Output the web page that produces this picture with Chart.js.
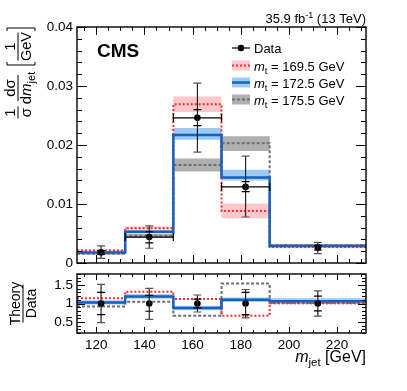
<!DOCTYPE html>
<html>
<head>
<meta charset="utf-8">
<script src="https://cdn.jsdelivr.net/npm/chart.js@4.4.1/dist/chart.umd.min.js"></script>
<style>
  body { margin: 0; background: #fff; }
  #wrap { position: relative; width: 407px; height: 391px; }
  canvas { position: absolute; left: 0; }
  #main { top: 0; }
  #ratio { top: 270px; }
</style>
</head>
<body>
<div id="wrap">
  <canvas id="main" width="407" height="270"></canvas>
  <canvas id="ratio" width="407" height="121"></canvas>
</div>
<script>
// binning in m_jet [GeV]
const binEdges = [112, 132, 152, 172, 192, 232];
const binCenters = [122, 142, 162, 182, 212];

// unfolded data, 1/sigma dsigma/dm_jet [1/GeV]
const dataVals   = [0.0018, 0.0044, 0.0246, 0.0129, 0.0026];
const dataTotHi  = [0.0029, 0.0063, 0.0305, 0.0181, 0.0035];
const dataTotLo  = [0.0008, 0.0025, 0.0188, 0.0078, 0.0016];
const dataStatHi = [0.0021, 0.0053, 0.0260, 0.0138, 0.0030];
const dataStatLo = [0.0015, 0.0034, 0.0233, 0.0121, 0.0022];

// predictions for three top masses
const mt1695 = [0.0021, 0.0059, 0.0269, 0.0088, 0.0027];
const mt1695Hi = [0.0023, 0.0062, 0.0282, 0.0101, 0.0028];
const mt1695Lo = [0.0019, 0.0057, 0.0256, 0.0076, 0.0025];
const mt1725 = [0.0018, 0.0053, 0.0217, 0.0145, 0.0029];
const mt1725Hi = [0.0020, 0.0056, 0.0229, 0.0158, 0.0032];
const mt1725Lo = [0.0016, 0.0050, 0.0209, 0.0140, 0.0027];
const mt1755 = [0.0016, 0.0046, 0.0166, 0.0203, 0.0030];
const mt1755Hi = [0.0018, 0.0049, 0.0177, 0.0215, 0.0032];
const mt1755Lo = [0.0014, 0.0043, 0.0155, 0.0190, 0.0028];

// ratio panel: theory / data
const ratioData = [1, 1, 1, 1, 1];
const ratioTotHi = [1.52, 1.41, 1.23, 1.38, 1.34];
const ratioTotLo = [0.48, 0.57, 0.77, 0.61, 0.66];
const ratioStatHi = [1.30, 1.22, 1.12, 1.30, 1.20];
const ratioStatLo = [0.70, 0.79, 0.88, 0.70, 0.80];
const ratio1695 = [1.14, 1.32, 1.12, 0.67, 1.01];
const ratio1725 = [1.03, 1.19, 0.88, 1.10, 1.06];
const ratio1725Hi = [1.09, 1.25, 0.94, 1.16, 1.14];
const ratio1725Lo = [0.97, 1.13, 0.82, 1.04, 0.98];
const ratio1755 = [0.92, 1.05, 0.67, 1.54, 1.02];

// axes
const xTicks = [120, 140, 160, 180, 200, 220];
const xTickLabels = ['120', '140', '160', '180', '200', '220'];
const mainYTicks = [0, 0.01, 0.02, 0.03, 0.04];
const mainYTickLabels = ['0', '0.01', '0.02', '0.03', '0.04'];
const ratioYTicks = [0.5, 1, 1.5];
const ratioYTickLabels = ['0.5', '1', '1.5'];

const legendLabels = ['Data', '169.5 GeV', '172.5 GeV', '175.5 GeV'];

const FONT = '"Liberation Sans", Arial, Helvetica, sans-serif';
const RED = '#ff2a2a', PINK = 'rgba(255,170,178,0.65)';
const BLUE = '#1462bd', LBLUE = '#9ccbf7';
const GREY = '#6e6e6e', LGREY = '#b0b0b0';

function font(size, style) {
  return (style || '') + ' ' + size + 'px ' + FONT;
}

// step-shaped line data from the bin contents
function steps(vals) {
  return binEdges.map((x, i) => ({ x: x, y: vals[Math.min(i, vals.length - 1)] }));
}

function bandPair(hi, lo, color, order) {
  return [
    { data: steps(hi), stepped: 'before', borderWidth: 0, borderColor: 'transparent',
      pointRadius: 0, backgroundColor: color, fill: '+1', order: order },
    { data: steps(lo), stepped: 'before', borderWidth: 0, borderColor: 'transparent',
      pointRadius: 0, fill: false, order: order }
  ];
}

function histLine(vals, color, width, dash, order) {
  return { data: steps(vals), stepped: 'before', borderColor: color, borderWidth: width,
    borderDash: dash, pointRadius: 0, fill: false, order: order, borderCapStyle: 'butt' };
}

function pointsSet(vals) {
  return { data: binCenters.map((x, i) => ({ x: x, y: vals[i] })), showLine: false,
    pointRadius: 3.3, pointBackgroundColor: '#000', pointBorderWidth: 0, order: -1 };
}

// draw a run of text pieces, left to right
function textRun(ctx, x, y, parts, align) {
  let w = 0;
  parts.forEach(p => { ctx.font = p.f; w += ctx.measureText(p.t).width; });
  let cx = align === 'right' ? x - w : (align === 'center' ? x - w / 2 : x);
  ctx.textAlign = 'left';
  parts.forEach(p => {
    ctx.font = p.f;
    ctx.fillText(p.t, cx, y + (p.dy || 0));
    cx += ctx.measureText(p.t).width;
  });
  return w;
}

function frameAndTicks(chart, t) {
  const { ctx, chartArea: a } = chart;
  const sx = chart.scales.x, sy = chart.scales.y;
  ctx.save();
  ctx.strokeStyle = '#000';
  ctx.lineWidth = 1;
  ctx.beginPath();
  for (let k = 0; k <= t.xn; k++) {
    const v = t.x0 + k * t.xstep;
    const px = Math.round(sx.getPixelForValue(v)) + 0.5;
    const len = (v % 20 === 0) ? t.xBig : t.xSmall;
    ctx.moveTo(px, a.bottom); ctx.lineTo(px, a.bottom - len);
    ctx.moveTo(px, a.top); ctx.lineTo(px, a.top + len);
  }
  for (let k = 0; k <= t.yn; k++) {
    const v = t.y0 + k * t.ystep;
    const py = Math.round(sy.getPixelForValue(v)) + 0.5;
    const len = (k % t.yEvery === t.yOff) ? t.yBig : t.ySmall;
    ctx.moveTo(a.left, py); ctx.lineTo(a.left + len, py);
    ctx.moveTo(a.right, py); ctx.lineTo(a.right - len, py);
  }
  ctx.stroke();
  ctx.lineWidth = 1.4;
  ctx.strokeRect(a.left, a.top, a.right - a.left, a.bottom - a.top);
  ctx.restore();
}

function errorBars(chart, vals, totHi, totLo, statHi, statLo, xBars) {
  const { ctx } = chart;
  const sx = chart.scales.x, sy = chart.scales.y;
  ctx.save();
  ctx.lineWidth = 1.2;
  binCenters.forEach((c, i) => {
    const px = sx.getPixelForValue(c);
    ctx.strokeStyle = '#222';
    ctx.beginPath();
    ctx.moveTo(px, sy.getPixelForValue(totLo[i]));
    ctx.lineTo(px, sy.getPixelForValue(totHi[i]));
    ctx.stroke();
    ctx.strokeStyle = '#555';
    ctx.beginPath();
    [totHi[i], totLo[i]].forEach(v => {
      const py = sy.getPixelForValue(v);
      ctx.moveTo(px - 4, py); ctx.lineTo(px + 4, py);
    });
    ctx.stroke();
    ctx.strokeStyle = '#000';
    ctx.beginPath();
    [statHi[i], statLo[i]].forEach(v => {
      const py = sy.getPixelForValue(v);
      ctx.moveTo(px - 4, py); ctx.lineTo(px + 4, py);
    });
    // horizontal bin-width bars, visible in the middle bins only
    if (xBars && i > 0 && i < 4) {
      const py = sy.getPixelForValue(vals[i]);
      const l = sx.getPixelForValue(binEdges[i]), r = sx.getPixelForValue(binEdges[i + 1]);
      ctx.moveTo(l, py); ctx.lineTo(r, py);
      ctx.moveTo(l, py - 4); ctx.lineTo(l, py + 4);
      ctx.moveTo(r, py - 4); ctx.lineTo(r, py + 4);
    }
    ctx.stroke();
  });
  ctx.restore();
}

function frac(ctx, cx, half, num, den, denBase) {
  ctx.beginPath();
  ctx.moveTo(cx - half, 0); ctx.lineTo(cx + half, 0);
  ctx.stroke();
  textRun(ctx, cx, -3, num, 'center');
  textRun(ctx, cx, denBase, den, 'center');
}

function bracket(ctx, x, top, bottom, dir) {
  ctx.beginPath();
  ctx.moveTo(x + dir * 3, top); ctx.lineTo(x, top);
  ctx.lineTo(x, bottom); ctx.lineTo(x + dir * 3, bottom);
  ctx.stroke();
}

function legendRow(ctx, y, kind) {
  const x0 = 232, x1 = 250;
  ctx.save();
  if (kind === 0) {
    ctx.strokeStyle = '#000'; ctx.lineWidth = 1.2;
    ctx.beginPath(); ctx.moveTo(x0, y); ctx.lineTo(x1, y); ctx.stroke();
    ctx.fillStyle = '#000';
    ctx.beginPath(); ctx.arc((x0 + x1) / 2, y, 3.3, 0, Math.PI * 2); ctx.fill();
  } else {
    const fill = [null, PINK, LBLUE, LGREY][kind];
    const col = [null, RED, BLUE, GREY][kind];
    ctx.fillStyle = fill;
    ctx.fillRect(x0, y - 5, x1 - x0, 10);
    ctx.strokeStyle = col;
    ctx.lineWidth = kind === 2 ? 2.5 : 2;
    ctx.setLineDash(kind === 1 ? [2, 2] : (kind === 3 ? [3, 2] : []));
    ctx.beginPath(); ctx.moveTo(x0, y); ctx.lineTo(x1, y); ctx.stroke();
  }
  ctx.restore();
  ctx.fillStyle = '#000';
  if (kind === 0) {
    textRun(ctx, 254, y + 5, [{ t: legendLabels[0], f: font(13) }]);
  } else {
    textRun(ctx, 254, y + 5, [
      { t: 'm', f: font(13, 'italic') },
      { t: 't', f: font(9.5), dy: 3 },
      { t: ' = ' + legendLabels[kind], f: font(13) }
    ]);
  }
}

const mainDeco = {
  id: 'mainDeco',
  afterDatasetsDraw(chart) {
    errorBars(chart, dataVals, dataTotHi, dataTotLo, dataStatHi, dataStatLo, true);
  },
  afterDraw(chart) {
    const ctx = chart.ctx;
    frameAndTicks(chart, { x0: 115, xstep: 5, xn: 23, xBig: 8, xSmall: 4,
      y0: 0, ystep: 0.002, yn: 20, yEvery: 5, yOff: 0, yBig: 10, ySmall: 5 });
    ctx.save();
    ctx.fillStyle = '#000';
    // CMS label and lumi
    textRun(ctx, 97, 57, [{ t: 'CMS', f: font(19, 'bold') }]);
    textRun(ctx, 366, 23, [
      { t: '35.9 fb', f: font(13) },
      { t: '-1', f: font(9), dy: -5 },
      { t: ' (13 TeV)', f: font(13) }
    ], 'right');
    // legend
    [48, 65.5, 82.5, 99.5].forEach((y, k) => legendRow(ctx, y, k));
    // y axis title
    ctx.translate(18, 130);
    ctx.rotate(-Math.PI / 2);
    ctx.strokeStyle = '#000';
    ctx.lineWidth = 1;
    frac(ctx, 17.5, 6, [{ t: '1', f: font(14) }], [{ t: 'σ', f: font(15) }], 13);
    frac(ctx, 42, 13, [{ t: 'dσ', f: font(15) }],
      [{ t: 'd', f: font(15) }, { t: 'm', f: font(15, 'italic') }, { t: 'jet', f: font(11), dy: 4 }], 13);
    bracket(ctx, 65, -11, 17, 1);
    bracket(ctx, 102, -11, 17, -1);
    frac(ctx, 83.5, 14, [{ t: '1', f: font(14) }], [{ t: 'GeV', f: font(14.5) }], 13);
    ctx.restore();
  }
};

const ratioDeco = {
  id: 'ratioDeco',
  afterDatasetsDraw(chart) {
    errorBars(chart, ratioData, ratioTotHi, ratioTotLo, ratioStatHi, ratioStatLo, false);
  },
  afterDraw(chart) {
    const ctx = chart.ctx;
    frameAndTicks(chart, { x0: 115, xstep: 5, xn: 23, xBig: 6, xSmall: 3,
      y0: 0.2, ystep: 0.1, yn: 16, yEvery: 5, yOff: 3, yBig: 8, ySmall: 4 });
    ctx.save();
    ctx.fillStyle = '#000';
    // x axis title
    textRun(ctx, 366, 92, [
      { t: 'm', f: font(16, 'italic') },
      { t: 'jet', f: font(11.5), dy: 4 },
      { t: ' [GeV]', f: font(16) }
    ], 'right');
    // ratio title
    ctx.translate(23, 33.5);
    ctx.rotate(-Math.PI / 2);
    ctx.strokeStyle = '#000';
    ctx.lineWidth = 1;
    frac(ctx, 0, 19, [{ t: 'Theory', f: font(14) }], [{ t: 'Data', f: font(14) }], 13);
    ctx.restore();
  }
};

function yAxis(min, max, ticks, labels, width) {
  return {
    type: 'linear', min: min, max: max,
    afterFit: s => { s.width = width; s.paddingTop = 0; s.paddingBottom = 0; },
    afterBuildTicks: s => { s.ticks = ticks.map(v => ({ value: v })); },
    ticks: { color: '#000', padding: 4, font: { family: FONT, size: 13.5 },
      callback: v => labels[ticks.indexOf(v)] },
    grid: { display: false, drawTicks: false },
    border: { display: false }
  };
}

Chart.defaults.font.family = FONT;

new Chart(document.getElementById('main'), {
  type: 'line',
  data: {
    datasets: [
      ...bandPair(mt1755Hi, mt1755Lo, LGREY, 10),
      ...bandPair(mt1695Hi, mt1695Lo, PINK, 10),
      ...bandPair(mt1725Hi, mt1725Lo, LBLUE, 10),
      histLine(mt1755, GREY, 2, [3, 2], 5),
      histLine(mt1695, RED, 2, [2, 2], 4),
      histLine(mt1725, BLUE, 2.5, [], 2),
      pointsSet(dataVals)
    ]
  },
  options: {
    responsive: false, animation: false, events: [],
    layout: { padding: { top: 27, right: 41, bottom: 7, left: 0 } },
    plugins: { legend: { display: false }, tooltip: { enabled: false } },
    scales: {
      x: { type: 'linear', min: 112, max: 232, display: false },
      y: yAxis(0, 0.04, mainYTicks, mainYTickLabels, 77)
    }
  },
  plugins: [mainDeco]
});

new Chart(document.getElementById('ratio'), {
  type: 'line',
  data: {
    datasets: [
      ...bandPair(ratio1725Hi, ratio1725Lo, LBLUE, 10),
      histLine(ratio1755, GREY, 2, [3, 2], 5),
      histLine(ratio1695, RED, 2, [2, 2], 4),
      histLine(ratio1725, BLUE, 2.5, [], 2),
      pointsSet(ratioData)
    ]
  },
  options: {
    responsive: false, animation: false, events: [],
    layout: { padding: { top: 4, right: 41, bottom: 0, left: 0 } },
    plugins: { legend: { display: false }, tooltip: { enabled: false } },
    scales: {
      x: {
        type: 'linear', min: 112, max: 232,
        afterFit: s => { s.height = 58; s.paddingLeft = 0; s.paddingRight = 0; },
        afterBuildTicks: s => { s.ticks = xTicks.map(v => ({ value: v })); },
        ticks: { color: '#000', padding: 4, maxRotation: 0, autoSkip: false,
          font: { family: FONT, size: 13.5 },
          callback: v => xTickLabels[xTicks.indexOf(v)] },
        grid: { display: false, drawTicks: false },
        border: { display: false }
      },
      y: yAxis(0.2, 1.8, ratioYTicks, ratioYTickLabels, 77)
    }
  },
  plugins: [ratioDeco]
});
</script>
</body>
</html>
